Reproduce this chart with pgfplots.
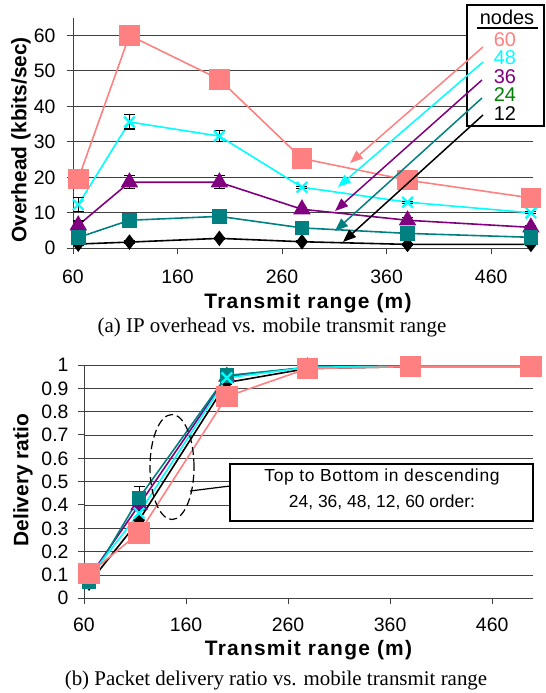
\documentclass[border=0pt]{standalone}
\usepackage{pgfplots}
\pgfplotsset{compat=1.18}
\usetikzlibrary{arrows.meta}
\usepackage{fontspec}
\setmainfont{Liberation Serif}
\setsansfont{Liberation Sans}
\newfontfamily\sfls[LetterSpace=6]{Liberation Sans}
\newfontfamily\sflsb[LetterSpace=4]{Liberation Sans}
\definecolor{cSal}{HTML}{FF8080}
\definecolor{cCya}{HTML}{00FFFF}
\definecolor{cPur}{HTML}{800080}
\definecolor{cTea}{HTML}{008080}
\definecolor{cGrn}{HTML}{008000}
\definecolor{cAx}{HTML}{404040}
\pgfplotsset{
  xl/.style={
    scale only axis, clip=false,
    xmin=60, xmax=500,
    axis x line=bottom, axis y line=left,
    axis line style={-, line width=1pt, cAx},
    xtick={60,160,260,360,460},
    tick align=outside, major tick length=6bp,
    tick style={cAx, line width=1pt},
    ymajorgrids, grid style={cAx, line width=0.8pt},
    /pgf/number format/assume math mode=true,
    tick label style={font=\sffamily\fontsize{19.5}{20}\selectfont},
    ylabel style={font=\sffamily\bfseries\fontsize{21}{22}\selectfont},
    xlabel style={font=\sfls\bfseries\fontsize{21}{22}\selectfont},
    error bars/y dir=both, error bars/y explicit,
    error bars/error bar style={black, line width=1.2pt},
    error bars/error mark options={rotate=90, mark size=5.5bp, line width=1.2pt, black},
  },
  s12/.style={black, line width=1.6pt, mark=diamond*, mark size=6.5bp, mark options={fill=black, draw=black}},
  s24/.style={cTea, line width=1.6pt, mark=square*, mark size=6.5bp, mark options={fill=cTea, draw=cTea}},
  s36/.style={cPur, line width=1.6pt, mark=triangle*, mark size=8.5bp, mark options={fill=cPur, draw=cPur}},
  s48/.style={cCya, line width=1.6pt, mark=x, mark size=7.5bp, mark options={draw=cCya, line width=2.2pt}},
  s60/.style={cSal, line width=1.6pt, mark=square*, mark size=9.5bp, mark options={fill=cSal, draw=cSal}},
}
\begin{document}
\begin{tikzpicture}
\useasboundingbox (0bp,0bp) rectangle (546bp,-693bp);
% ---------------- (a) ----------------
\begin{axis}[xl,
  at={(73bp,-248.3bp)}, anchor=south west,
  width=460bp, height=230.7bp,
  ymin=0, ymax=65, ytick={0,10,...,60},
  xlabel={Transmit range (m)},
  ylabel={Overhead (kbits/sec)},
  xlabel style={at={(axis description cs:0.5,0)}, anchor=center, yshift=-55bp, xshift=5bp},
  ylabel style={at={(axis description cs:0,0.5)}, anchor=center, yshift=52bp, xshift=-7bp},
  xticklabel style={yshift=-12bp},
  yticklabel style={xshift=-8bp},
]
\addplot[s12] table[x=x,y=y,y error=e]{
x y e
65 1.2 0.3
114 1.75 0.3
200 2.8 0.3
279 1.85 0.3
380 1.1 0.3
498 1.1 0.3
};
\addplot[s36] table[x=x,y=y,y error=e]{
x y e
65 6.5 1.2
114 18.6 1.8
200 18.6 1.8
279 11.0 0.5
380 7.9 0.8
498 5.9 0.6
};
\addplot[s24] table[x=x,y=y,y error=e]{
x y e
65 3.05 0.6
114 7.9 0.6
200 9.0 0.6
279 5.75 0.4
380 4.2 0.4
498 3.1 0.4
};
\addplot[s48] table[x=x,y=y,y error=e]{
x y e
65 12.3 2.0
114 35.6 2.0
200 31.6 1.5
279 17.2 0.3
380 13.0 0.3
498 10.0 0.3
};
\addplot[s60] table[x=x,y=y,y error=e]{
x y e
65 19.5 2.5
114 60.0 2.8
200 47.6 2.7
279 25.3 0.3
380 19.2 0.3
498 14.2 0.3
};
\end{axis}
% ---------------- (b) ----------------
\begin{axis}[xl,
  at={(84bp,-598.3bp)}, anchor=south west,
  width=449bp, height=233.3bp,
  ymin=0, ymax=1, ytick={0,0.1,...,1.01},
  yticklabels={0,0.1,0.2,0.3,0.4,0.5,0.6,0.7,0.8,0.9,1},
  xlabel={Transmit range (m)},
  ylabel={Delivery ratio},
  xlabel style={at={(axis description cs:0.5,0)}, anchor=center, yshift=-52bp},
  ylabel style={at={(axis description cs:0,0.5)}, anchor=center, yshift=61bp, xshift=1.5bp},
  xticklabel style={yshift=-10bp},
  yticklabel style={xshift=-6bp},
]
\addplot[s12] table[x=x,y=y,y error=e]{
x y e
65 0.065 0.012
114 0.335 0.04
200 0.925 0.01
279 0.985 0.005
380 0.993 0.003
498 0.993 0.003
};
\addplot[s36] table[x=x,y=y,y error=e]{
x y e
65 0.09 0.01
114 0.40 0.02
200 0.95 0.01
279 0.99 0.003
380 0.995 0.003
498 0.995 0.003
};
\addplot[s24] table[x=x,y=y,y error=e]{
x y e
65 0.07 0.01
114 0.43 0.05
200 0.955 0.01
279 0.99 0.003
380 0.995 0.003
498 0.995 0.003
};
\addplot[s48] table[x=x,y=y,y error=e]{
x y e
65 0.09 0.01
114 0.365 0.02
200 0.945 0.01
279 0.99 0.003
380 0.995 0.003
498 0.995 0.003
};
\addplot[s60, mark size=10bp] table[x=x,y=y,y error=e]{
x y e
65 0.106 0.01
114 0.28 0.02
200 0.865 0.04
279 0.985 0.003
380 0.993 0.003
498 0.993 0.003
};
\end{axis}
\begin{scope}[x=1bp,y=1bp]
% legend box (a)
\draw[line width=1.5bp, fill=white] (467,-5) rectangle (544,-126);
\begin{scope}[font=\sffamily\fontsize{20}{20}\selectfont, every node/.style={inner sep=0pt, text height=14bp, text depth=0bp}]
\node at (507,-17) {nodes};
\draw[line width=1.3bp] (477,-28) -- (538,-28);
\node[text=cSal] at (505,-39) {60};
\node[text=cCya] at (505,-57.5) {48};
\node[text=cPur] at (505,-76) {36};
\node[text=cGrn] at (505,-94.5) {24};
\node[text=black] at (505,-113) {12};
\end{scope}
\begin{scope}[line width=1.5bp, arrows={-{Triangle[length=13bp,width=10bp]}}]
\draw[cSal] (483,-47) -- (350,-163);
\draw[cCya] (483,-62) -- (338,-187);
\draw[cPur] (482,-80) -- (335,-211);
\draw[cTea] (482,-98) -- (335,-231);
\draw[black] (483,-115) -- (343,-242);
\end{scope}
\node[font=\rmfamily\fontsize{21}{21}\selectfont] at (272,-327) {(a) IP overhead vs. mobile transmit range};
% annotations (b)
\draw[line width=1.2bp, dash pattern=on 8bp off 4bp] (172,-467) ellipse [x radius=22, y radius=52.5];
\draw[line width=1.2bp] (190,-491) -- (230,-486);
\draw[line width=1.5bp, fill=white] (230,-464) rectangle (533,-521);
\node[font=\sflsb\fontsize{17.5}{18}\selectfont] at (382,-477) {Top to Bottom in descending};
\node[font=\sffamily\fontsize{17.5}{18}\selectfont] at (382,-502) {24, 36, 48, 12, 60 order:};
\node[font=\rmfamily\fontsize{21}{21}\selectfont] at (276,-680) {(b) Packet delivery ratio vs. mobile transmit range};
\end{scope}
\end{tikzpicture}
\end{document}
